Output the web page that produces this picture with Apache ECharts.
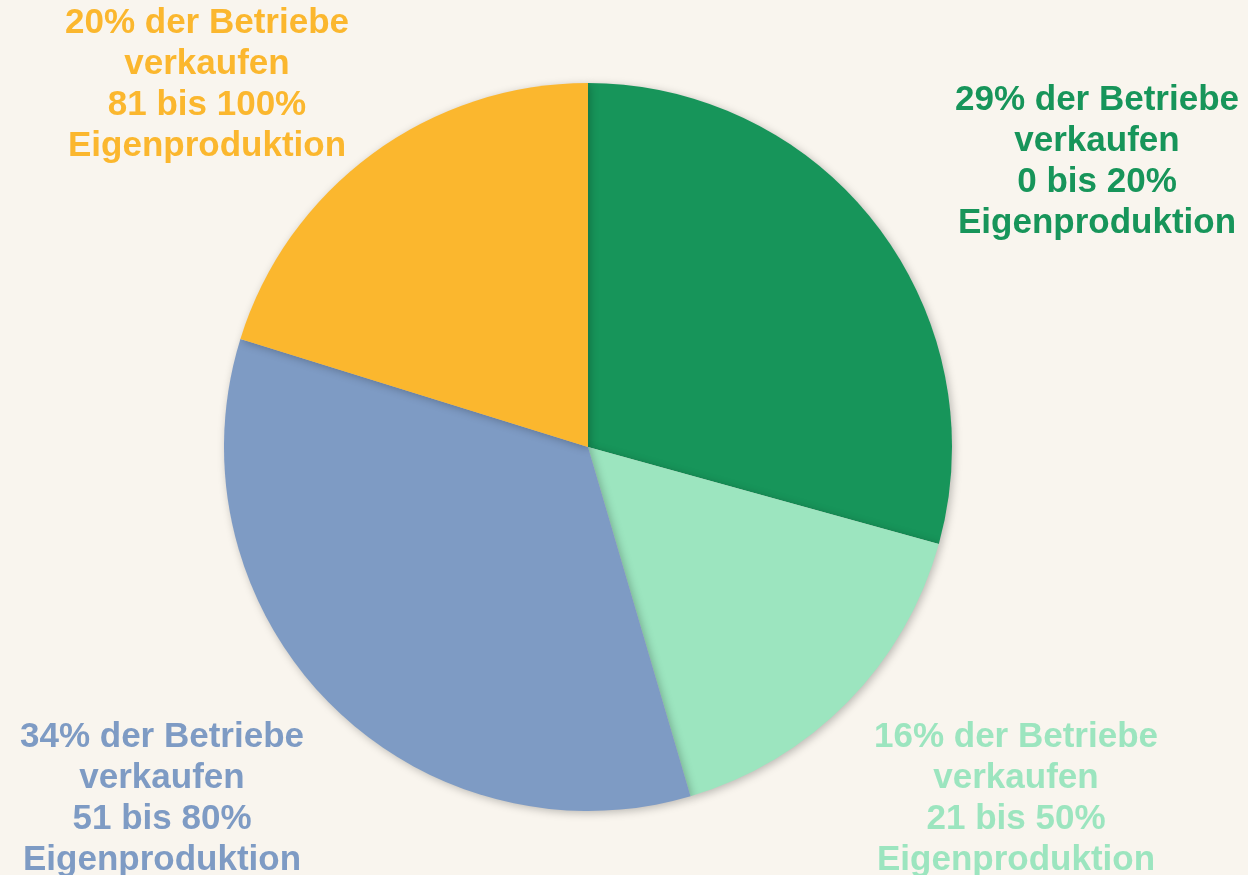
<!DOCTYPE html>
<html>
<head>
<meta charset="utf-8">
<script src="https://cdn.jsdelivr.net/npm/echarts@6/dist/echarts.min.js"></script>
<style>
html,body{margin:0;padding:0;background:#f9f5ee;}
#chart{width:1248px;height:875px;}
</style>
</head>
<body>
<div id="chart"></div>
<script>
const shares = [29, 16, 34, 20];
const ranges = ['0 bis 20%', '21 bis 50%', '51 bis 80%', '81 bis 100%'];
const colors = ['#17955a', '#9ce5bf', '#7e9bc4', '#fbb72e'];

const labelSpots = [
  {x: 1097, y: 162},
  {x: 1016, y: 799},
  {x: 162, y: 799},
  {x: 207, y: 85}
];

const chart = echarts.init(document.getElementById('chart'));
chart.setOption({
  backgroundColor: '#f9f5ee',
  animation: false,
  series: [{
    type: 'pie',
    center: [588, 447],
    radius: [0, 364],
    startAngle: 90,
    clockwise: true,
    avoidLabelOverlap: false,
    itemStyle: {
      shadowBlur: 8,
      shadowColor: 'rgba(0,0,0,0.25)',
      shadowOffsetX: 2,
      shadowOffsetY: 2
    },
    label: {
      show: true,
      fontFamily: '"Liberation Sans"',
      fontWeight: 'bold',
      fontSize: 35,
      lineHeight: 41,
      align: 'center',
      formatter: p => p.value + '% der Betriebe\nverkaufen\n' + ranges[p.dataIndex] + '\nEigenproduktion'
    },
    labelLine: {show: false},
    labelLayout: p => ({
      x: labelSpots[p.dataIndex].x,
      y: labelSpots[p.dataIndex].y,
      align: 'center',
      verticalAlign: 'middle'
    }),
    emphasis: {disabled: true},
    data: shares.map((v, i) => ({
      value: v,
      name: ranges[i],
      itemStyle: {color: colors[i]},
      label: {color: colors[i]}
    }))
  }]
});
</script>
</body>
</html>
